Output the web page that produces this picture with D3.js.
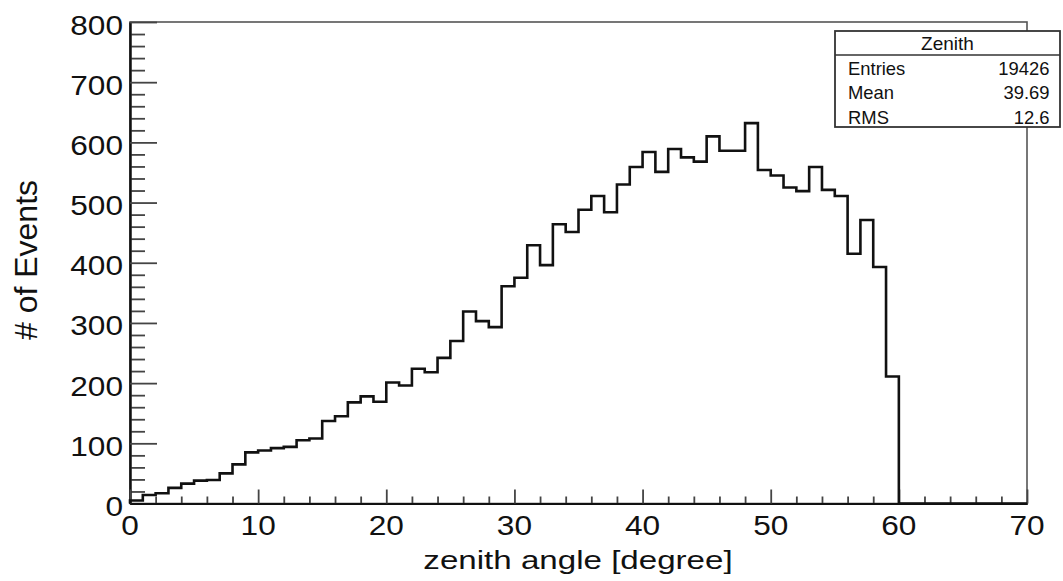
<!DOCTYPE html>
<html>
<head>
<meta charset="utf-8">
<script src="https://cdn.jsdelivr.net/npm/d3@7"></script>
<style>
  html, body { margin: 0; padding: 0; background: #fff; }
  svg { display: block; font-family: "Liberation Sans", Arial, Helvetica, sans-serif; }
</style>
</head>
<body>
<svg id="chart" width="1063" height="581"></svg>
<script>
// ---- data (1-degree bins) ----
const binLowEdges = [0,1,2,3,4,5,6,7,8,9,10,11,12,13,14,15,16,17,18,19,
  20,21,22,23,24,25,26,27,28,29,30,31,32,33,34,35,36,37,38,39,
  40,41,42,43,44,45,46,47,48,49,50,51,52,53,54,55,56,57,58,59,
  60,61,62,63,64,65,66,67,68,69];
const binWidth = 1;
const counts = [5,14,17,26,33,38,39,50,65,85,
  88,92,94,105,108,137,145,168,178,169,
  201,196,224,218,242,270,319,303,293,361,
  375,429,396,464,451,488,511,484,530,559,
  584,551,589,575,568,610,586,586,632,554,
  545,525,519,559,521,511,415,471,393,211,
  0,0,0,0,0,0,0,0,0,0];
const xMajorTicks = [0,10,20,30,40,50,60,70];
const xMinorTicks = [2,4,6,8,12,14,16,18,22,24,26,28,32,34,36,38,42,44,46,48,52,54,56,58,62,64,66,68];
const yMajorTicks = [0,100,200,300,400,500,600,700,800];
const yMinorTicks = [20,40,60,80,120,140,160,180,220,240,260,280,320,340,360,380,420,440,460,480,520,540,560,580,620,640,660,680,720,740,760,780];
const xTitle = "zenith angle [degree]";
const yTitle = "# of Events";
const statsTitle = "Zenith";
const statsLabels = ["Entries", "Mean", "RMS"];
const statsValues = ["19426", "39.69", "12.6"];

// ---- layout ----
const svg = d3.select("#chart");
const X0 = 130, X1 = 1027, Y0 = 503.5, Y1 = 22;
const x = d3.scaleLinear().domain([0, 70]).range([X0, X1]);
const y = d3.scaleLinear().domain([0, 800]).range([Y0, Y1]);

function stext(g, tx, ty, str, size, sx, anchor) {
  return g.append("text")
    .attr("transform", `translate(${tx},${ty}) scale(${sx},1)`)
    .attr("text-anchor", anchor)
    .style("font-size", size + "px")
    .attr("fill", "#111")
    .text(str);
}

// frame
svg.append("rect")
  .attr("x", X0).attr("y", Y1).attr("width", X1 - X0).attr("height", Y0 - Y1)
  .attr("fill", "none").attr("stroke", "#555").attr("stroke-width", 1.6);

// axes (ticks drawn inward)
function styleAxis(g) {
  g.selectAll(".tick line").attr("stroke", "#444").attr("stroke-width", 1.8);
  g.selectAll(".tick text").remove();
  g.select(".domain").attr("stroke", "#111").attr("stroke-width", 2);
}
svg.append("g").attr("transform", `translate(${X0},0)`)
  .call(d3.axisLeft(y).tickValues(yMinorTicks).tickSize(-15).tickSizeOuter(0))
  .call(styleAxis);
svg.append("g").attr("transform", `translate(${X0},0)`)
  .call(d3.axisLeft(y).tickValues(yMajorTicks).tickSize(-27).tickSizeOuter(0))
  .call(styleAxis);
svg.append("g").attr("transform", `translate(0,${Y0})`)
  .call(d3.axisBottom(x).tickValues(xMinorTicks).tickSize(-7).tickSizeOuter(0))
  .call(styleAxis);
svg.append("g").attr("transform", `translate(0,${Y0})`)
  .call(d3.axisBottom(x).tickValues(xMajorTicks).tickSize(-14).tickSizeOuter(0))
  .call(styleAxis);

// tick labels
const lab = svg.append("g");
yMajorTicks.forEach(v => stext(lab, 123, y(v) + 12.5, String(v), 28.5, 1.11, "end"));
xMajorTicks.forEach(v => stext(lab, x(v), 535, String(v), 28.5, 1.11, "middle"));

// axis titles
stext(svg, 578, 568.5, xTitle, 26.5, 1.25, "middle");
svg.append("text")
  .attr("transform", "translate(37,260) rotate(-90)")
  .attr("text-anchor", "middle")
  .style("font-size", "32px")
  .attr("fill", "#111")
  .text(yTitle);

// histogram outline
const pts = binLowEdges.map((e, i) => [e, counts[i]]);
pts.push([binLowEdges[binLowEdges.length - 1] + binWidth, counts[counts.length - 1]]);
const line = d3.line().x(d => x(d[0])).y(d => y(d[1])).curve(d3.curveStepAfter);
svg.append("path")
  .attr("d", line([[0, 0]].concat(pts)))
  .attr("fill", "none").attr("stroke", "#111").attr("stroke-width", 2.6)
  .attr("stroke-linejoin", "miter");

// stats box
const sb = svg.append("g");
sb.append("rect").attr("x", 835).attr("y", 31).attr("width", 225).attr("height", 96)
  .attr("fill", "#fff").attr("stroke", "#333").attr("stroke-width", 1.8);
sb.append("line").attr("x1", 835).attr("x2", 1060).attr("y1", 55).attr("y2", 55)
  .attr("stroke", "#333").attr("stroke-width", 1.5);
stext(sb, 947.5, 49.5, statsTitle, 19, 1.0, "middle");
statsLabels.forEach((s, i) => {
  stext(sb, 848, 74.5 + i * 24.7, s, 19, 0.97, "start");
  stext(sb, 1049.5, 74.5 + i * 24.7, statsValues[i], 19, 0.97, "end");
});
</script>
</body>
</html>
